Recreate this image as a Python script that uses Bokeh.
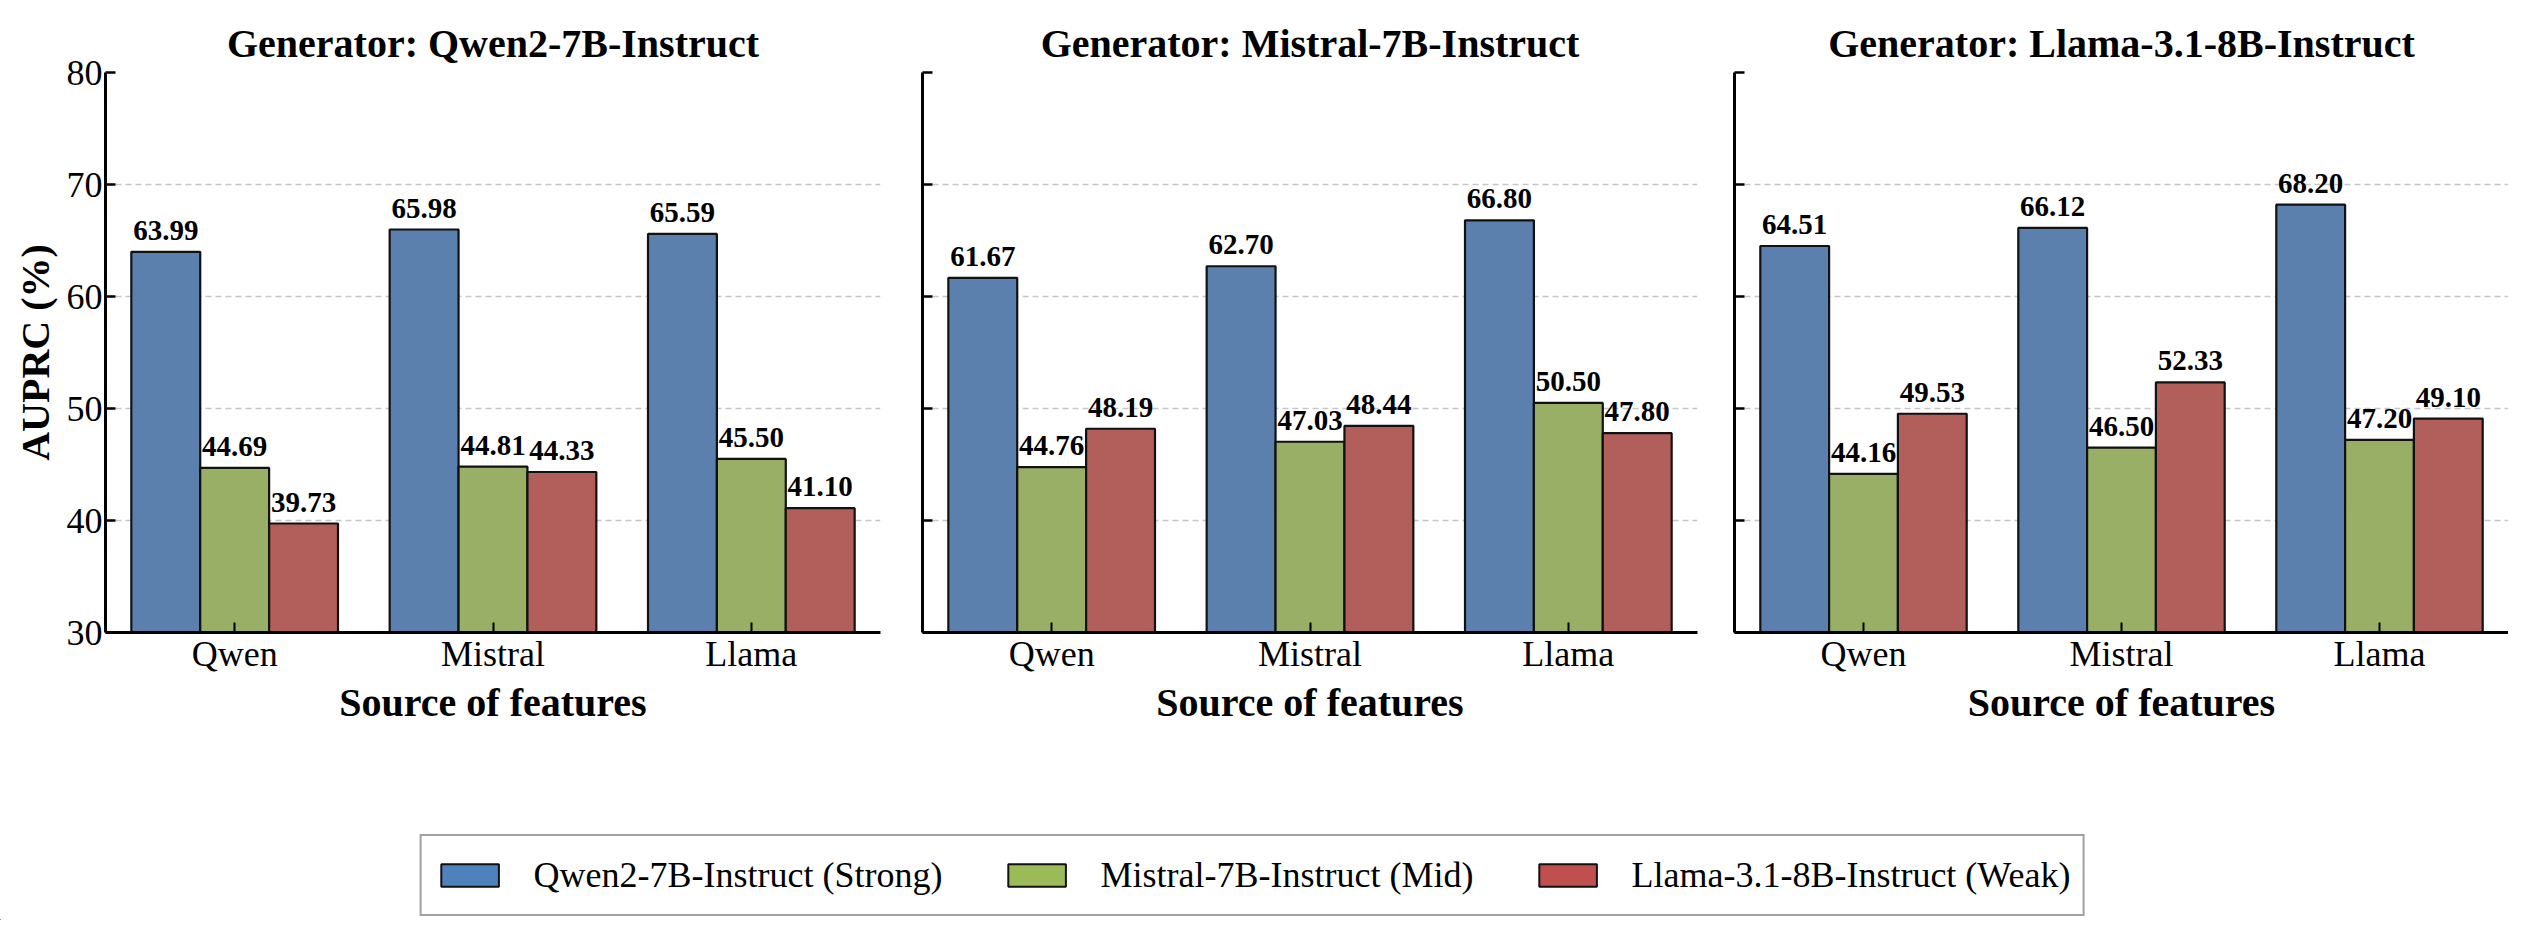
from bokeh.plotting import figure
from bokeh.layouts import row, column
from bokeh.models import (ColumnDataSource, FixedTicker, Range1d, Legend, LegendItem, LabelSet)
from bokeh.core.properties import value
from bokeh.embed import file_html
from bokeh.resources import INLINE

# ---------------- data ----------------
categories = ["Qwen", "Mistral", "Llama"]
generators = ["Qwen2-7B-Instruct", "Mistral-7B-Instruct", "Llama-3.1-8B-Instruct"]
series_labels = ["Qwen2-7B-Instruct (Strong)", "Mistral-7B-Instruct (Mid)", "Llama-3.1-8B-Instruct (Weak)"]

gen_qwen_strong = [63.99, 65.98, 65.59]
gen_qwen_mid = [44.69, 44.81, 45.50]
gen_qwen_weak = [39.73, 44.33, 41.10]

gen_mistral_strong = [61.67, 62.70, 66.80]
gen_mistral_mid = [44.76, 47.03, 50.50]
gen_mistral_weak = [48.19, 48.44, 47.80]

gen_llama_strong = [64.51, 66.12, 68.20]
gen_llama_mid = [44.16, 46.50, 47.20]
gen_llama_weak = [49.53, 52.33, 49.10]

y_ticks = [30, 40, 50, 60, 70, 80]

panels = [
    (generators[0], [gen_qwen_strong, gen_qwen_mid, gen_qwen_weak]),
    (generators[1], [gen_mistral_strong, gen_mistral_mid, gen_mistral_weak]),
    (generators[2], [gen_llama_strong, gen_llama_mid, gen_llama_weak]),
]

bar_colors = ["#5b80ad", "#98af65", "#b25f5c"]
legend_colors = ["#4f81bd", "#9bbb59", "#c0504d"]
FONT = "Liberation Serif"
BAR_W = 0.8 / 3

# (width, border_left, border_right)
geom = [(898, 105, 18), (813, 24, 14), (797, 23, 0)]

figs = []
for i, (gen, series) in enumerate(panels):
    w, bl, br = geom[i]
    p = figure(width=w, height=760, output_backend="svg", toolbar_location=None,
               x_range=Range1d(-0.5, 2.5), y_range=Range1d(30, 80),
               min_border_left=bl, min_border_right=br, min_border_top=72,
               min_border_bottom=128, title="Generator: " + gen)
    p.outline_line_color = None
    p.background_fill_color = "white"
    p.border_fill_color = "white"
    p.title.text_font = FONT
    p.title.text_font_style = "bold"
    p.title.text_font_size = "40px"
    p.title.text_color = "black"
    p.title.align = "center"
    p.title.standoff = 14

    idx = list(range(len(categories)))
    for k, vals in enumerate(series):
        xs = [j + (k - 1) * BAR_W for j in idx]
        src = ColumnDataSource(dict(x=xs, top=vals, lab=["%.2f" % v for v in vals]))
        p.vbar(x="x", top="top", bottom=0, width=BAR_W, source=src,
               fill_color=bar_colors[k], line_color="#111111", line_width=2.2)
        p.add_layout(LabelSet(x="x", y="top", text="lab", source=src,
                              text_font=value(FONT), text_font_style="bold",
                              text_font_size="29px", text_align="center",
                              text_baseline="alphabetic", y_offset=12,
                              text_color="black"))

    # x axis
    p.xaxis.ticker = FixedTicker(ticks=idx)
    p.xaxis.major_label_overrides = {j: c for j, c in enumerate(categories)}
    p.xaxis.axis_label = "Source of features"
    p.xaxis.axis_label_text_font = FONT
    p.xaxis.axis_label_text_font_style = "bold"
    p.xaxis.axis_label_text_font_size = "40px"
    p.xaxis.axis_label_text_color = "black"
    p.xaxis.axis_label_standoff = 3
    p.xaxis.major_label_text_font = FONT
    p.xaxis.major_label_text_font_size = "36px"
    p.xaxis.major_label_text_color = "black"
    p.xaxis.major_label_standoff = 1
    p.xaxis.major_tick_in = 10
    p.xaxis.major_tick_out = 0
    p.xaxis.major_tick_line_width = 2
    p.xaxis.major_tick_line_color = "black"
    p.xaxis.minor_tick_line_color = None
    p.xaxis.axis_line_width = 3
    p.xaxis.axis_line_color = "black"

    # y axis
    p.yaxis.ticker = FixedTicker(ticks=y_ticks)
    p.yaxis.major_tick_in = 10
    p.yaxis.major_tick_out = 0
    p.yaxis.major_tick_line_width = 2.5
    p.yaxis.major_tick_line_color = "black"
    p.yaxis.minor_tick_line_color = None
    p.yaxis.axis_line_width = 3
    p.yaxis.axis_line_color = "black"
    p.yaxis.major_label_text_font = FONT
    p.yaxis.major_label_text_font_size = "36px"
    p.yaxis.major_label_text_color = "black"
    p.yaxis.major_label_standoff = 3
    if i == 0:
        p.yaxis.axis_label = "AUPRC (%)"
        p.yaxis.axis_label_text_font = FONT
        p.yaxis.axis_label_text_font_style = "bold"
        p.yaxis.axis_label_text_font_size = "40px"
        p.yaxis.axis_label_text_color = "black"
        p.yaxis.axis_label_standoff = 6
    else:
        p.yaxis.major_label_overrides = {t: "" for t in y_ticks}
        p.yaxis.major_label_standoff = 0

    p.xgrid.grid_line_color = None
    p.ygrid.ticker = FixedTicker(ticks=y_ticks)
    p.ygrid.grid_line_color = "#b8b8b8"
    p.ygrid.grid_line_alpha = 0.8
    p.ygrid.grid_line_width = 1.5
    p.ygrid.grid_line_dash = "6 4"
    figs.append(p)

# legend figure
lf = figure(width=2508, height=160, output_backend="svg", toolbar_location=None,
            x_range=Range1d(0, 1), y_range=Range1d(0, 1),
            x_axis_type=None, y_axis_type=None,
            min_border_left=0, min_border_right=4, min_border_top=70, min_border_bottom=0)
lf.outline_line_color = None
lf.xgrid.grid_line_color = None
lf.ygrid.grid_line_color = None
items = []
for k, lab in enumerate(series_labels):
    # placeholder bar outside the visible range; only its legend swatch is shown
    r = lf.vbar(x=[-10], top=[-10], bottom=[-11], width=0.1, fill_color=legend_colors[k],
                line_color="#111111", line_width=2)
    items.append(LegendItem(label=lab, renderers=[r]))
legend = Legend(items=items, orientation="horizontal", location="center",
                label_text_font=FONT, label_text_font_size="36px", label_text_color="black",
                glyph_width=72, glyph_height=28, label_standoff=28, spacing=58,
                label_height=54, padding=12, margin=0, border_line_color="#444444",
                border_line_width=2, background_fill_color="white",
                background_fill_alpha=1.0)
lf.add_layout(legend, "center")

layout = column(row(*figs), lf)
open("out.html", "w").write(file_html(layout, INLINE))
